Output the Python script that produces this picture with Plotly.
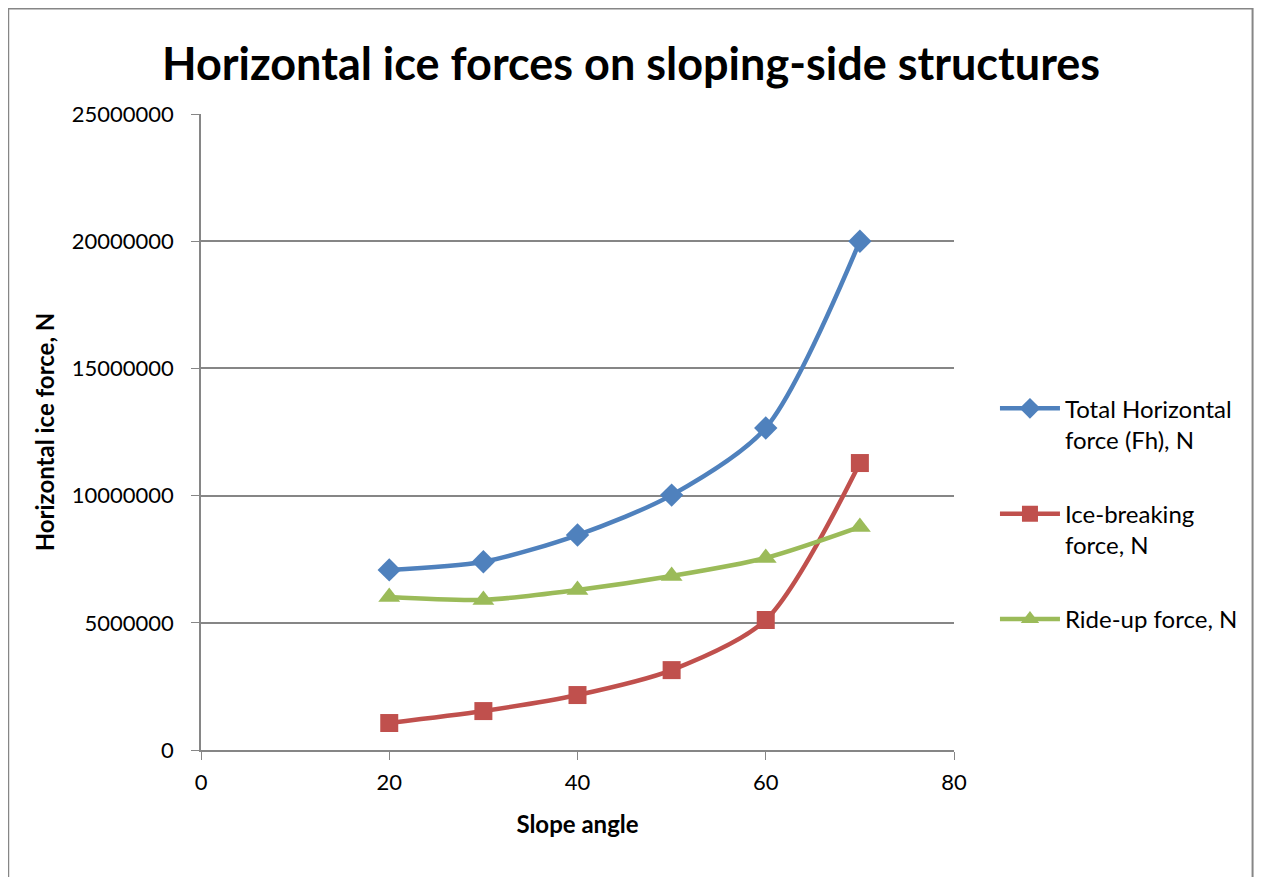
import plotly.graph_objects as go

# data
slope_angle = [20, 30, 40, 50, 60, 70]
total_force = [7080000, 7400000, 8450000, 10020000, 12660000, 20000000]
ice_breaking_force = [1060000, 1530000, 2160000, 3140000, 5110000, 11280000]
ride_up_force = [6010000, 5900000, 6290000, 6840000, 7550000, 8770000]

y_ticks = [0, 5000000, 10000000, 15000000, 20000000, 25000000]
x_ticks = [0, 20, 40, 60, 80]

FONT = "Lato"
GRID = "#868686"

series = [
    ("Total Horizontal<br>force (Fh), N", total_force, "#4F81BD", "diamond", 18),
    ("Ice-breaking<br>force, N", ice_breaking_force, "#C0504D", "square", 18),
    ("Ride-up force, N", ride_up_force, "#9BBB59", "triangle-up", 19),
]

fig = go.Figure()

for i, (name, vals, color, symbol, size) in enumerate(series):
    fig.add_trace(go.Scatter(
        x=slope_angle,
        y=vals,
        mode="lines+markers",
        name=name,
        legendgroup=f"g{i}",
        line=dict(color=color, width=4.5, shape="spline", smoothing=0.8),
        marker=dict(symbol=symbol, size=size, color=color),
    ))

# outer chart border (page body margin puts paper at 8px)
fig.add_shape(type="rect", xref="paper", yref="paper",
              x0=-0.256, x1=1.3965, y0=-0.3, y1=1.166,
              line=dict(color="#868686", width=2), layer="below")

fig.update_xaxes(
    range=[0, 80], tickvals=x_ticks,
    showline=True, linecolor=GRID, linewidth=1.5,
    ticks="outside", ticklen=8, tickcolor=GRID, ticklabelstandoff=4,
    showgrid=False, zeroline=False,
    tickfont=dict(family=FONT, size=22, color="black"),
    title=dict(text="<b>Slope angle</b>", font=dict(family=FONT, size=24, color="black"), standoff=22),
)
fig.update_yaxes(
    range=[0, 25000000], tickvals=y_ticks,
    ticktext=[str(v) for v in y_ticks],
    showline=True, linecolor=GRID, linewidth=1.5,
    ticks="outside", ticklen=8, tickcolor=GRID, ticklabelstandoff=13,
    showgrid=True, gridcolor=GRID, gridwidth=1.5, zeroline=False,
    tickfont=dict(family=FONT, size=22, color="black"),
    title=dict(text="<b>Horizontal ice force, N</b>", font=dict(family=FONT, size=24, color="black"), standoff=10),
)

fig.update_layout(
    width=1246,
    height=869,
    margin=dict(l=193, r=299, t=106, b=127),
    plot_bgcolor="white",
    paper_bgcolor="white",
    title=dict(text="<b>Horizontal ice forces on sloping-side structures</b>",
               font=dict(family=FONT, size=45, color="black"),
               x=0.5, xanchor="center", y=0.9356, yanchor="middle"),
    legend=dict(
        x=1.053, xanchor="left", y=0.572, yanchor="top", valign="top",
        font=dict(family=FONT, size=24, color="black"),
        tracegroupgap=40, itemwidth=60,
    ),
)

fig.write_html("out.html")
